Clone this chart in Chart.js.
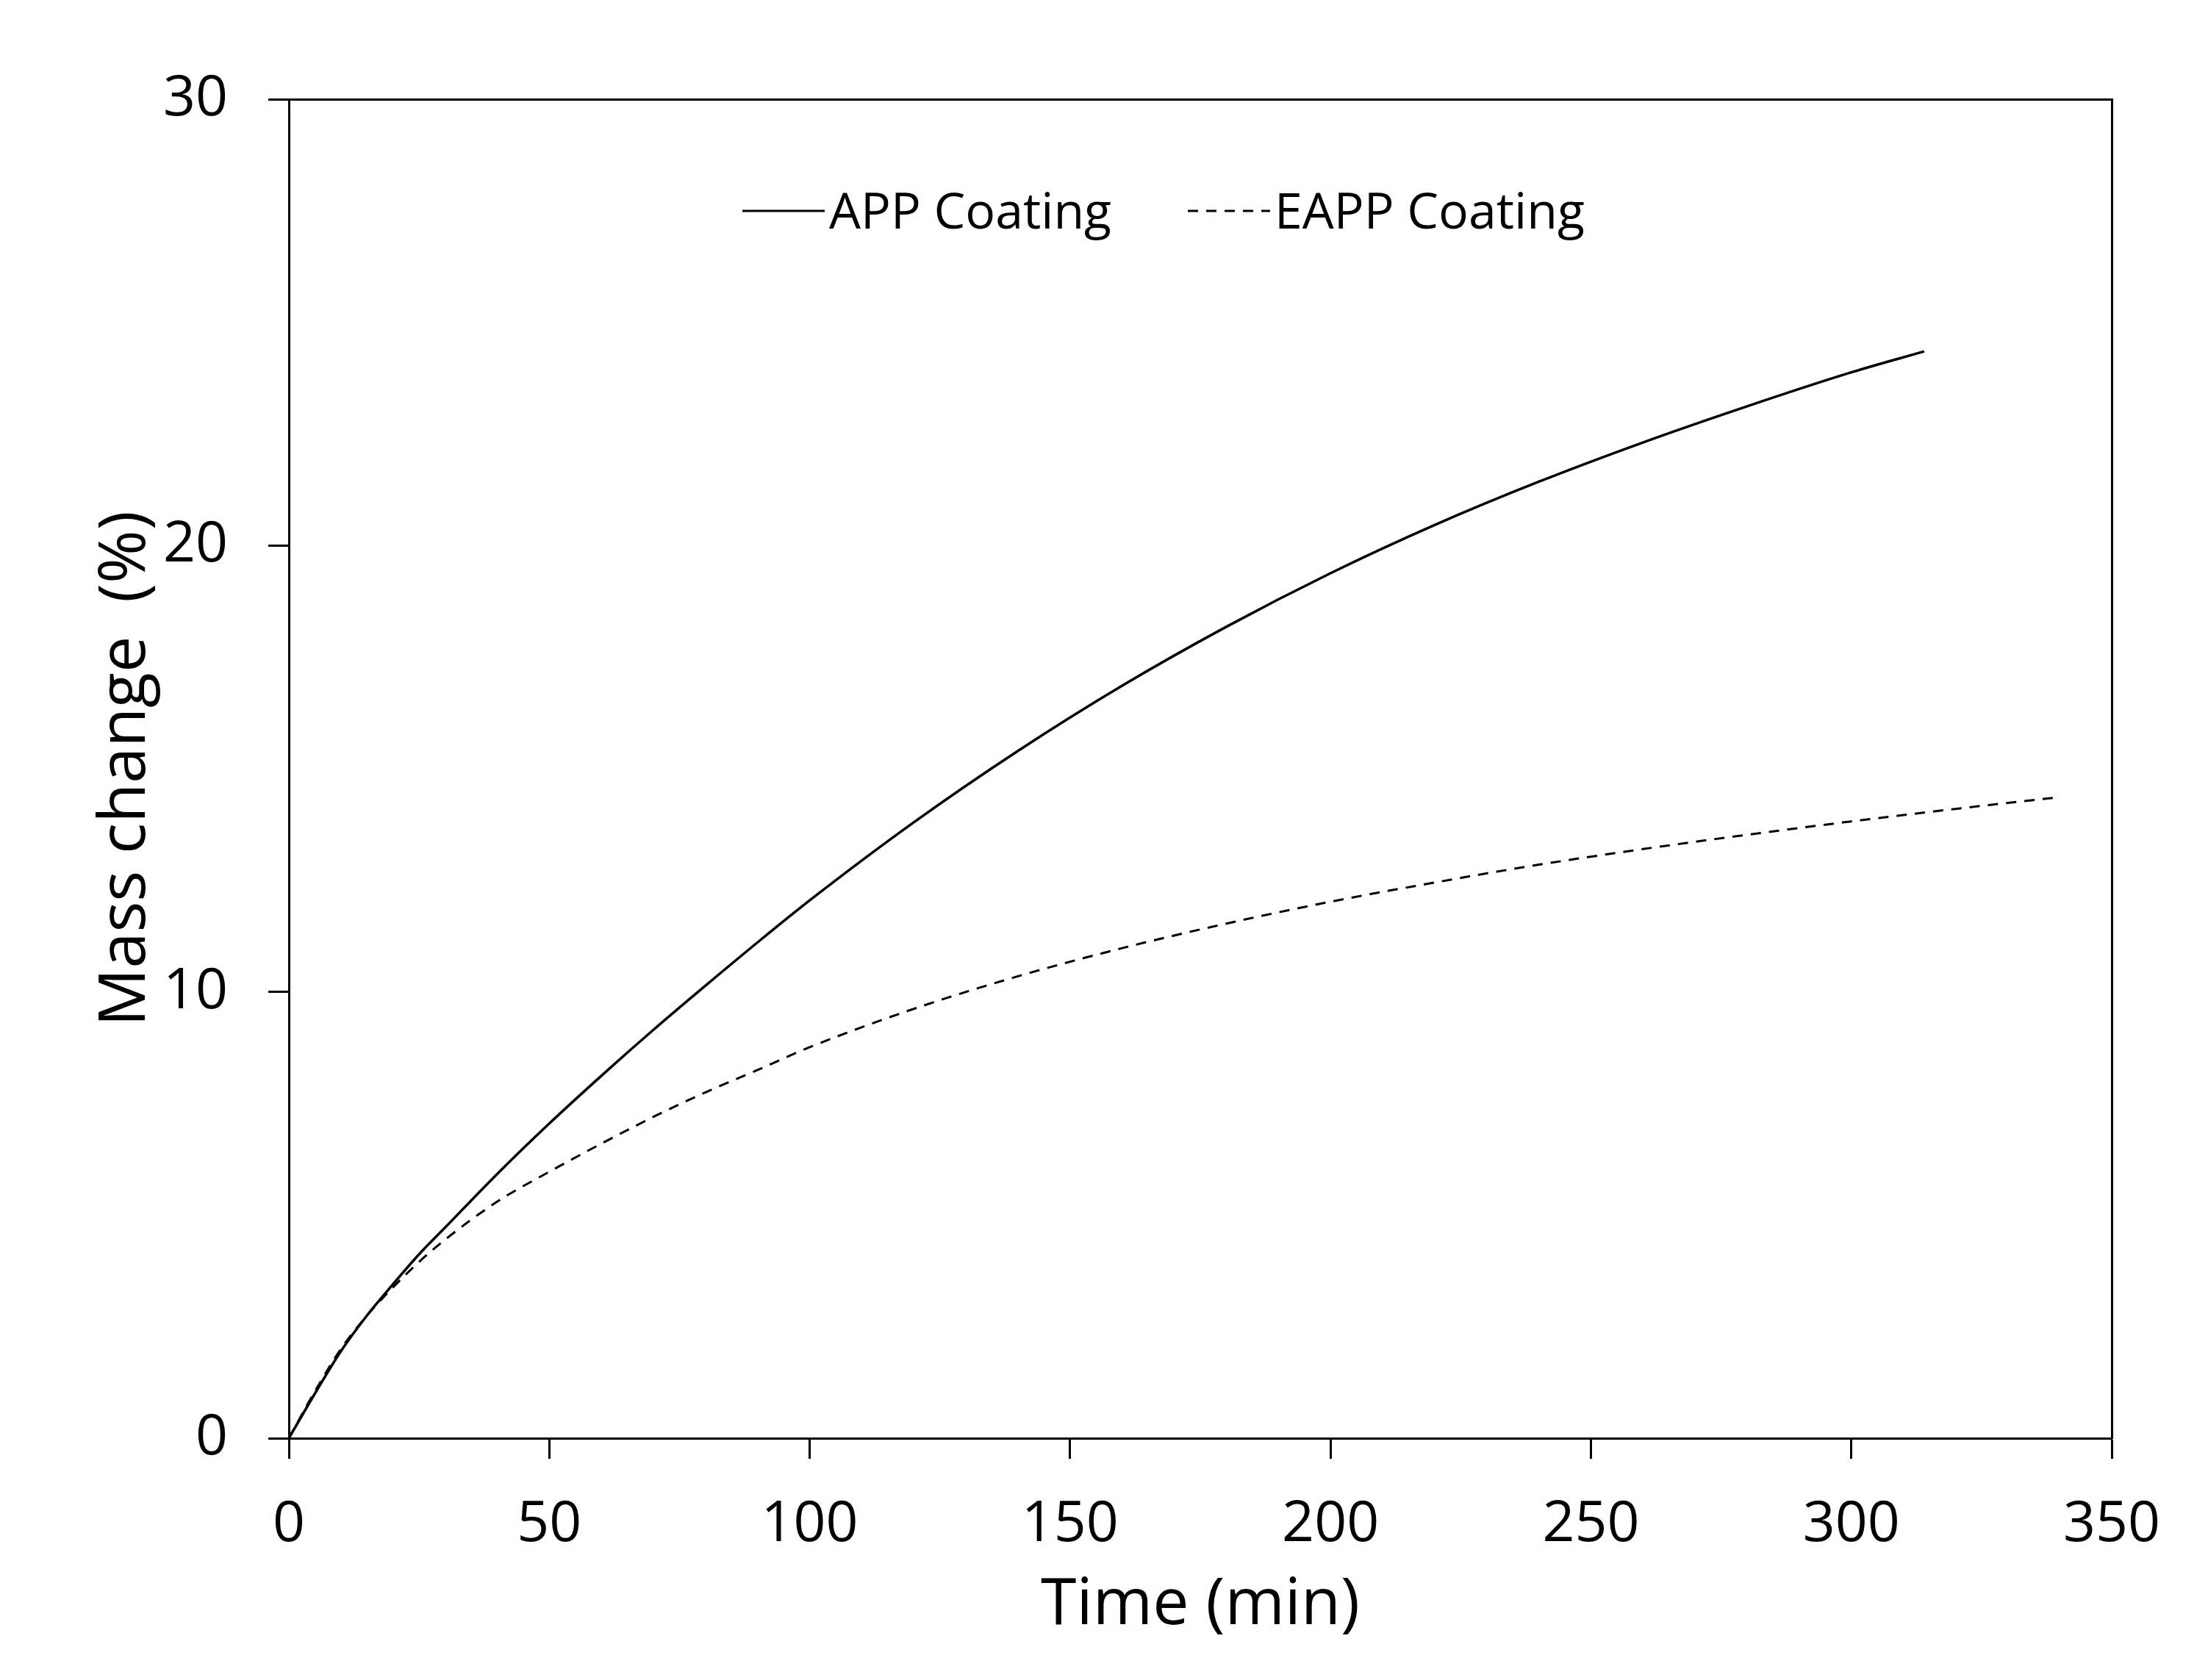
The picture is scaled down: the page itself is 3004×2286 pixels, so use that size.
<!DOCTYPE html>
<html>
<head>
<meta charset="utf-8">
<script src="https://cdn.jsdelivr.net/npm/chart.js@4.4.1/dist/chart.umd.min.js"></script>
<style>
  html, body { margin: 0; padding: 0; background: #fff; }
  #wrap { width: 3004px; height: 2286px; }
</style>
</head>
<body>
<div id="wrap"><canvas id="chart" width="3004" height="2286"></canvas></div>
<script>
// values (time in min, mass change in %)
const appTime = [0, 5, 10, 15, 20, 25, 30, 40, 50, 60, 70, 80, 90, 100, 120, 140, 160, 180, 200, 220, 240, 260, 280, 300, 314];
const appMass = [0, 1.0, 1.95, 2.75, 3.45, 4.12, 4.72, 5.92, 7.05, 8.12, 9.15, 10.14, 11.11, 12.05, 13.8, 15.4, 16.86, 18.18, 19.38, 20.46, 21.43, 22.31, 23.12, 23.88, 24.35];

const eappTime = [0, 5, 10, 15, 20, 25, 30, 40, 50, 60, 70, 80, 90, 100, 120, 140, 160, 180, 200, 220, 240, 260, 280, 300, 320, 339];
const eappMass = [0, 1.05, 2.0, 2.75, 3.38, 3.95, 4.45, 5.3, 5.97, 6.6, 7.2, 7.75, 8.25, 8.76, 9.62, 10.35, 10.98, 11.53, 12.02, 12.45, 12.85, 13.2, 13.52, 13.82, 14.1, 14.35];

const xTicks = [0, 50, 100, 150, 200, 250, 300, 350];
const yTicks = [0, 10, 20, 30];

const seriesNames = ['APP Coating', 'EAPP Coating'];

const FONT = "'Open Sans', sans-serif";

function toPoints(xs, ys) {
  return xs.map((x, i) => ({ x: x, y: ys[i] }));
}

// small legend drawn inside the plot, line sample then label
const lineLegend = {
  id: 'lineLegend',
  afterDraw(chart) {
    const ctx = chart.ctx;
    const area = chart.chartArea;
    const y = area.top + 152;
    let x = area.left + 617;
    ctx.save();
    ctx.font = '68px ' + FONT;
    ctx.fillStyle = '#000';
    ctx.textBaseline = 'alphabetic';
    chart.data.datasets.forEach(ds => {
      ctx.beginPath();
      ctx.setLineDash(ds.borderDash || []);
      ctx.lineWidth = 3;
      ctx.strokeStyle = ds.borderColor;
      ctx.moveTo(x, y);
      ctx.lineTo(x + 112, y);
      ctx.stroke();
      ctx.fillText(ds.label, x + 118, y + 24);
      x += 118 + ctx.measureText(ds.label).width + 104;
    });
    ctx.restore();
  }
};

const frameAxis = {
  type: 'linear',
  ticks: { display: false },
  grid: { display: false },
  border: { display: true, color: '#000', width: 3 }
};

const ctx = document.getElementById('chart').getContext('2d');
new Chart(ctx, {
  type: 'line',
  data: {
    datasets: [{
      label: seriesNames[0],
      data: toPoints(appTime, appMass),
      borderColor: '#000',
      borderWidth: 3.5,
      pointRadius: 0,
      cubicInterpolationMode: 'monotone',
      fill: false
    }, {
      label: seriesNames[1],
      data: toPoints(eappTime, eappMass),
      borderColor: '#000',
      borderWidth: 3,
      borderDash: [14, 11],
      pointRadius: 0,
      cubicInterpolationMode: 'monotone',
      fill: false
    }]
  },
  options: {
    responsive: false,
    animation: false,
    events: [],
    layout: { padding: { top: 135, right: 131, bottom: 0, left: 0 } },
    plugins: {
      legend: { display: false },
      tooltip: { enabled: false }
    },
    scales: {
      x: {
        type: 'linear',
        position: 'bottom',
        min: 0,
        max: 350,
        afterBuildTicks: s => { s.ticks = xTicks.map(v => ({ value: v })); },
        afterFit: s => { s.height = 329; },
        ticks: { color: '#000', font: { family: FONT, size: 77 }, padding: 44, maxRotation: 0 },
        grid: { display: true, drawOnChartArea: false, drawTicks: true, tickLength: 28, tickWidth: 3, tickColor: '#000' },
        border: { display: true, color: '#000', width: 3 },
        title: {
          display: true,
          text: 'Time (min)',
          color: '#000',
          font: { family: FONT, size: 88 },
          padding: { top: 0, bottom: 48 }
        }
      },
      y: {
        type: 'linear',
        position: 'left',
        min: 0,
        max: 30,
        afterBuildTicks: s => { s.ticks = yTicks.map(v => ({ value: v })); },
        afterFit: s => { s.width = 393; },
        ticks: { color: '#000', font: { family: FONT, size: 77 }, padding: 55 },
        grid: { display: true, drawOnChartArea: false, drawTicks: true, tickLength: 28, tickWidth: 3, tickColor: '#000' },
        border: { display: true, color: '#000', width: 3 },
        title: {
          display: true,
          text: 'Mass change  (%)',
          color: '#000',
          font: { family: FONT, size: 88 },
          padding: { top: 119, bottom: 0 }
        }
      },
      x2: Object.assign({}, frameAxis, { position: 'top', min: 0, max: 350, afterFit: s => { s.height = 0; } }),
      y2: Object.assign({}, frameAxis, { position: 'right', min: 0, max: 30, afterFit: s => { s.width = 0; } })
    }
  },
  plugins: [lineLegend]
});
</script>
</body>
</html>
